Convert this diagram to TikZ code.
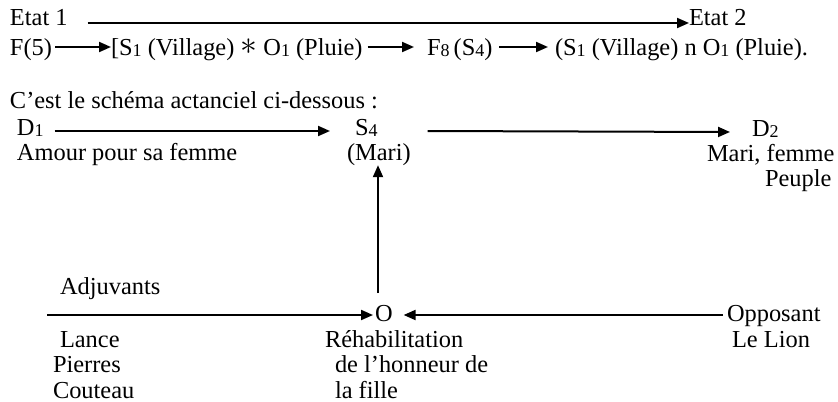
\documentclass[tikz,border=0pt]{standalone}
\usepackage{fontspec}
\setmainfont{Liberation Serif}
\usetikzlibrary{arrows.meta,calc}
\tikzset{
  txt/.style={anchor=base west, inner sep=0pt, outer sep=0pt, font=\fontsize{12.2pt}{14pt}\selectfont},
  arr/.style={line width=1pt, -{Triangle[length=6pt,width=5pt]}},
  ln/.style={line width=1pt},
}
\newcommand{\sbs}[1]{\raisebox{-0.8pt}{\fontsize{9pt}{9pt}\selectfont #1}}
\newcommand{\bigast}{\raisebox{0.3pt}{\scalebox{1.4}{$\ast$}}}
\begin{document}
\begin{tikzpicture}[x=0.5pt,y=-0.5pt]
\useasboundingbox (0,0) rectangle (838,401);
% row 1
\node[txt] (etat1) at (10,26) {Etat 1};
\node[txt] (etat2) at (689,26) {Etat 2};
\draw[arr] ($(etat1.base east)+(20,-3)$) -- ($(etat2.base west)+(0,-3)$);
% row 2
\node[txt] (f5) at (10,55) {F(5)};
\node[txt] (s1) at (111,55) {[S\sbs{1} (Village) \bigast{} O\sbs{1} (Pluie)};
\node[txt] (f8) at (427,55) {F\sbs{8}\,(S\sbs{4})};
\node[txt] (res) at (555,55) {(S\sbs{1} (Village) n O\sbs{1} (Pluie).};
\draw[arr] ($(f5.base east)+(3,-8)$) -- ($(s1.base west)+(0,-8)$);
\draw[arr] ($(s1.base east)+(5,-8)$) -- ($(f8.base west)+(-13,-8)$);
\draw[arr] ($(f8.base east)+(7,-8)$) -- ($(res.base west)+(-7,-8)$);
% intro
\node[txt] (intro) at (10,108) {C’est le schéma actanciel ci-dessous :};
% actantial schema top
\node[txt] (d1) at (17,135) {D\sbs{1}};
\node[txt] (s4) at (355,135) {S\sbs{4}};
\node[txt] (d2) at (752,136) {D\sbs{2}};
\node[txt] (amour) at (17,160) {Amour pour sa femme};
\node[txt] (mari) at (347,160) {(Mari)};
\node[txt] (mf) at (707,161) {Mari, femme};
\node[txt] (peuple) at (765,186) {Peuple};
\draw[arr] ($(d1.base east)+(11,-4)$) -- ($(s4.base west)+(-25,-4)$);
\draw[arr] ($(s4.base east)+(50,-4)$) -- ($(d2.base west)+(-22,-4)$);
% bottom
\node[txt] (adj) at (60,294) {Adjuvants};
\node[txt] (o) at (375,321) {O};
\node[txt] (opp) at (727,321) {Opposant};
\node[txt] (lion) at (732,347) {Le Lion};
\node[txt] (lance) at (60,347) {Lance};
\node[txt] (pierres) at (53,372) {Pierres};
\node[txt] (couteau) at (53,398) {Couteau};
\node[txt] (rehab) at (325,347) {Réhabilitation};
\node[txt] (honneur) at (335,372) {de l’honneur de};
\node[txt] (fille) at (335,398) {la fille};
\coordinate (adjstart) at (47,315);
\draw[arr] (adjstart) -- ($(o.base west)+(-2,-6)$);
\draw[arr] ($(opp.base west)+(-4,-6)$) -- ($(o.base east)+(11,-6)$);
\draw[arr] (378,293) -- (mari.south -| 378,0);
\end{tikzpicture}
\end{document}
